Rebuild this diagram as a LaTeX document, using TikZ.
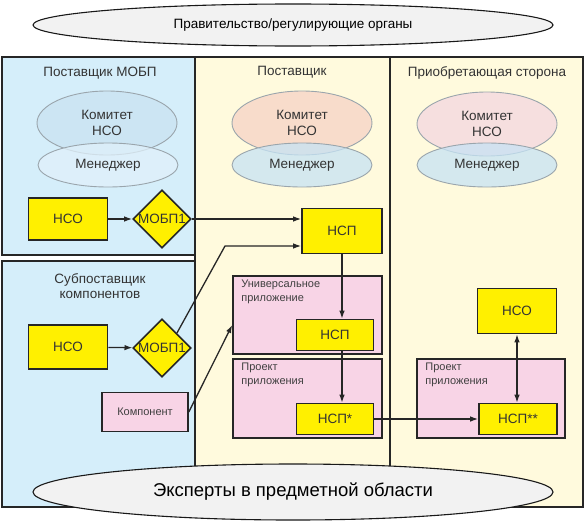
\documentclass[tikz,border=0pt]{standalone}
\usepackage{fontspec}
\setmainfont{Liberation Sans}
\usetikzlibrary{arrows.meta,positioning,shapes.geometric,fit}

\definecolor{colblue}{HTML}{D5EEFA}
\definecolor{colyellow}{HTML}{FFFADD}
\definecolor{boxyellow}{HTML}{FFF000}
\definecolor{boxpink}{HTML}{F8D4E6}
\definecolor{comblue}{HTML}{BCDBEE}
\definecolor{comsalmon}{HTML}{F6D3C6}
\definecolor{compink}{HTML}{F4D6E0}
\definecolor{mgrblue}{HTML}{C6E3F5}
\definecolor{rimgray}{HTML}{9AA5AC}

\begin{document}
\begin{tikzpicture}[
    x=1pt, y=-1pt,
    font=\fontsize{13.5}{15.5}\selectfont,
    column/.style={draw=black!85, line width=1.1pt},
    bigoval/.style={ellipse, draw=black!90, line width=1.1pt, fill=black!5, minimum width=520pt, inner sep=0pt},
    committee/.style={ellipse, draw=rimgray, line width=0.9pt, fill opacity=0.75, text opacity=1, minimum width=140pt, minimum height=64pt, align=center, text=black!80},
    manager/.style={ellipse, draw=rimgray, line width=0.9pt, fill=mgrblue, fill opacity=0.75, text opacity=1, minimum width=140pt, minimum height=44pt, text=black!80},
    ybox/.style={draw=black!85, line width=1.6pt, fill=boxyellow, inner sep=0pt, font=\fontsize{13.5}{15}\selectfont, text=black!80},
    ydiam/.style={diamond, draw=black!85, line width=1.6pt, fill=boxyellow, inner sep=0pt, minimum width=58pt, minimum height=58pt, text=black!80},
    appbox/.style={draw=black!85, line width=1.6pt, fill=boxpink, inner sep=0pt},
    apptext/.style={anchor=north west, align=left, inner sep=0pt, font=\fontsize{11}{13.5}\selectfont, text=black!75},
    colname/.style={align=center, text=black!80},
    line/.style={-{Latex[length=8pt,width=5.5pt]}, line width=1.3pt, black!85},
    dline/.style={{Latex[length=8pt,width=5.5pt]}-{Latex[length=8pt,width=5.5pt]}, line width=1.3pt, black!85}
]
\useasboundingbox (0,0) rectangle (585,522);

% columns
\fill[white] (0,0) rectangle (585,522);
\draw[column, fill=colblue] (2,57) rectangle (195,255);
\draw[column, fill=colblue] (2,261) rectangle (195,507);
\draw[column, fill=colyellow] (195,57) rectangle (390,507);
\draw[column, fill=colyellow] (390,57) rectangle (583,507);

\node[bigoval, minimum height=42pt] (gov) at (293,25) {Правительство/регулирующие органы};

\node[colname] (mobpname) at (100,73) {Поставщик МОБП};
\node[colname] (supname) at (292,72) {Поставщик};
\node[colname] (buyname) at (487,73) {Приобретающая сторона};
\node[colname] (subname) at (100,286) {Субпоставщик\\компонентов};

% committees and managers
\node[committee, fill=comblue!80] (com1) at (107,123) {Комитет\\НСО};
\node[manager, fill=mgrblue!55] (mgr1) at (108,165) {Менеджер};
\node[committee, fill=comsalmon] (com2) at (302,123) {Комитет\\НСО};
\node[manager] (mgr2) at (302,165) {Менеджер};
\node[committee, fill=compink] (com3) at (487,124) {Комитет\\НСО};
\node[manager] (mgr3) at (487,165) {Менеджер};

% application boxes
\node[appbox, minimum width=149pt, minimum height=78pt] (univ) at (307.5,315) {};
\node[apptext] (univtext) at ([xshift=9pt,yshift=-5pt]univ.north west) {Универсальное\\приложение};
\node[appbox, minimum width=149pt, minimum height=79pt] (proj1) at (307.5,398.5) {};
\node[apptext] (proj1text) at ([xshift=9pt,yshift=-5pt]proj1.north west) {Проект\\приложения};
\node[appbox, minimum width=148pt, minimum height=79pt] (proj2) at (491,398.5) {};
\node[apptext] (proj2text) at ([xshift=9pt,yshift=-5pt]proj2.north west) {Проект\\приложения};

% elements
\node[ybox, minimum width=79pt, minimum height=42pt] (nso1) at (68,219) {НСО};
\node[ydiam] (mobp1) at (162,219) {МОБП1};
\node[ybox, minimum width=79pt, minimum height=44pt] (nso2) at (68,347) {НСО};
\node[ydiam] (mobp2) at (162,348) {МОБП1};
\node[appbox, minimum width=86pt, minimum height=39pt, font=\fontsize{11}{13}\selectfont, text=black!75] (comp) at (145,412) {Компонент};
\node[ybox, minimum width=80pt, minimum height=45pt] (nsp) at (342,231) {НСП};
\node[ybox, minimum width=77pt, minimum height=31pt] (nspu) at (335,335) {НСП};
\node[ybox, minimum width=77pt, minimum height=31pt] (nsps) at (335,419) {НСП*};
\node[ybox, minimum width=79pt, minimum height=45pt] (nso3) at (517,311) {НСО};
\node[ybox, minimum width=78pt, minimum height=31pt] (nspss) at (518,419) {НСП**};

\coordinate (bend) at (225,246);

\draw[line] (nso1) -- (mobp1);
\draw[line] (nso2) -- (mobp2);
\draw[line] (mobp1.east) -- (mobp1.east -| nsp.west);
\draw[line] (mobp2.north east) -- (bend) -- (bend -| nsp.west);
\draw[line] (comp.east) -- ([yshift=-10pt]univ.west);
\draw[line] (nsp.south) -- (nsp.south |- nspu.north);
\draw[line] (nsp.south |- nspu.south) -- (nsp.south |- nsps.north);
\draw[line] (nsps.east) -- (nspss.west);
\draw[dline] (nso3) -- (nso3 |- nspss.north);

\node[bigoval, minimum height=56pt, font=\fontsize{18.5}{21}\selectfont] (experts) at (293,492) {Эксперты в предметной области};
\end{tikzpicture}
\end{document}
